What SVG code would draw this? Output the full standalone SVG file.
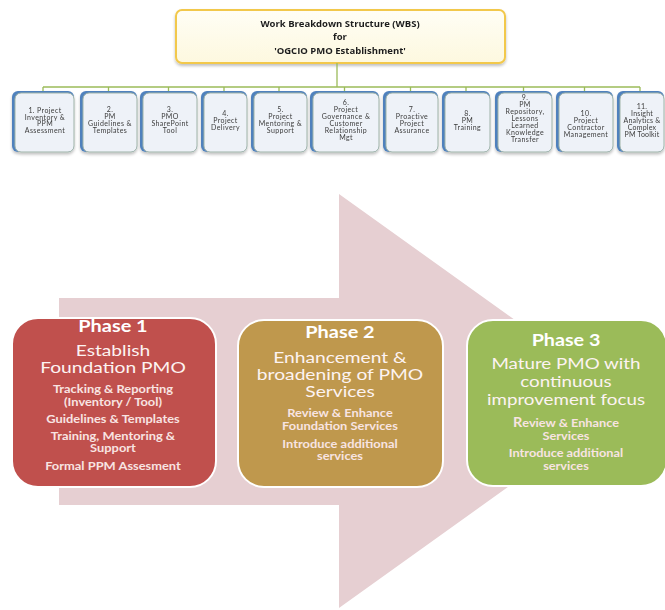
<svg xmlns="http://www.w3.org/2000/svg" width="665" height="610" viewBox="0 0 665 610">
  <style>
    .title { font-family: "Open Sans", "Liberation Sans", sans-serif; font-weight: bold; font-size: 9.5px; fill: #1e1e1e; text-anchor: middle; }
    .wbs-back { fill: #4f81bd; }
    .wbs-box { fill: #eef2f8; stroke: #9fb3a8; stroke-width: 1; }
    .wbs-text { font-family: Lato, "Liberation Sans", sans-serif; font-size: 7px; letter-spacing: 0.4px; fill: #3c3c3c; text-anchor: middle; }
    .conn { stroke: #9bbb59; stroke-width: 1.3; fill: none; }
    .phase { stroke: #ffffff; stroke-width: 2; }
    .ph-head { font-family: Lato, "Liberation Sans", sans-serif; font-weight: bold; font-size: 17px; fill: #ffffff; text-anchor: middle; }
    .ph-main { font-family: Lato, "Liberation Sans", sans-serif; font-size: 15.5px; fill: #fdf3f2; text-anchor: middle; }
    .ph-sub { font-family: Lato, "Liberation Sans", sans-serif; font-weight: bold; font-size: 11px; fill: #f8e4e2; text-anchor: middle; }
  </style>
  <defs>
    <filter id="soft" x="-10%" y="-10%" width="130%" height="140%">
      <feGaussianBlur in="SourceAlpha" stdDeviation="1.5"/>
      <feOffset dx="0" dy="2" result="b"/>
      <feComponentTransfer><feFuncA type="linear" slope="0.25"/></feComponentTransfer>
      <feMerge><feMergeNode/><feMergeNode in="SourceGraphic"/></feMerge>
    </filter>
    <linearGradient id="topFill" x1="0" y1="0" x2="0" y2="1">
      <stop offset="0" stop-color="#fffef5"/>
      <stop offset="1" stop-color="#fdf8df"/>
    </linearGradient>
  </defs>

  <rect width="665" height="610" fill="#ffffff"/>

  <!-- WBS root -->
  <g id="wbs-root" filter="url(#soft)">
    <rect x="176" y="10" width="329" height="53" rx="6" fill="url(#topFill)" stroke="#f2c84b" stroke-width="2"/>
    <text class="title" x="340" y="27">Work Breakdown Structure (WBS)</text>
    <text class="title" x="340" y="40">for</text>
    <text class="title" x="340" y="54">'OGCIO PMO Establishment'</text>
  </g>

  <!-- tree connectors -->
  <g id="connectors" class="conn">
    <path d="M337 63 V87"/>
    <path d="M43 87 H640"/>
    <path d="M43 87 V91 M108.5 87 V91 M168.5 87 V91 M224 87 V91 M279 87 V91 M344.5 87 V91 M410.5 87 V91 M466 87 V91 M523.5 87 V91 M584.5 87 V91 M640 87 V91"/>
  </g>

  <!-- WBS work packages -->
  <g id="wp1" filter="url(#soft)">
    <rect class="wbs-back" x="12" y="91" width="62" height="61" rx="6"/>
    <rect class="wbs-box" x="15" y="93" width="59" height="59" rx="6"/>
    <text class="wbs-text" x="45" y="113">1. Project</text>
    <text class="wbs-text" x="45" y="119.5">Inventory &amp;</text>
    <text class="wbs-text" x="45" y="126">PPM</text>
    <text class="wbs-text" x="45" y="133">Assessment</text>
  </g>
  <g id="wp2" filter="url(#soft)">
    <rect class="wbs-back" x="80" y="91" width="57" height="61" rx="6"/>
    <rect class="wbs-box" x="83" y="93" width="54" height="59" rx="6"/>
    <text class="wbs-text" x="110" y="112">2.</text>
    <text class="wbs-text" x="110" y="119">PM</text>
    <text class="wbs-text" x="110" y="126">Guidelines &amp;</text>
    <text class="wbs-text" x="110" y="133">Templates</text>
  </g>
  <g id="wp3" filter="url(#soft)">
    <rect class="wbs-back" x="140" y="91" width="57" height="61" rx="6"/>
    <rect class="wbs-box" x="143" y="93" width="54" height="59" rx="6"/>
    <text class="wbs-text" x="170" y="112">3.</text>
    <text class="wbs-text" x="170" y="119">PMO</text>
    <text class="wbs-text" x="170" y="126">SharePoint</text>
    <text class="wbs-text" x="170" y="133">Tool</text>
  </g>
  <g id="wp4" filter="url(#soft)">
    <rect class="wbs-back" x="201" y="91" width="46" height="61" rx="6"/>
    <rect class="wbs-box" x="204" y="93" width="43" height="59" rx="6"/>
    <text class="wbs-text" x="225.5" y="116">4.</text>
    <text class="wbs-text" x="225.5" y="123">Project</text>
    <text class="wbs-text" x="225.5" y="130">Delivery</text>
  </g>
  <g id="wp5" filter="url(#soft)">
    <rect class="wbs-back" x="251" y="91" width="56" height="61" rx="6"/>
    <rect class="wbs-box" x="254" y="93" width="53" height="59" rx="6"/>
    <text class="wbs-text" x="280.5" y="112">5.</text>
    <text class="wbs-text" x="280.5" y="119">Project</text>
    <text class="wbs-text" x="280.5" y="126">Mentoring &amp;</text>
    <text class="wbs-text" x="280.5" y="133">Support</text>
  </g>
  <g id="wp6" filter="url(#soft)">
    <rect class="wbs-back" x="310" y="91" width="69" height="61" rx="6"/>
    <rect class="wbs-box" x="313" y="93" width="66" height="59" rx="6"/>
    <text class="wbs-text" x="346" y="105">6.</text>
    <text class="wbs-text" x="346" y="112">Project</text>
    <text class="wbs-text" x="346" y="119">Governance &amp;</text>
    <text class="wbs-text" x="346" y="126">Customer</text>
    <text class="wbs-text" x="346" y="133">Relationship</text>
    <text class="wbs-text" x="346" y="140">Mgt</text>
  </g>
  <g id="wp7" filter="url(#soft)">
    <rect class="wbs-back" x="383" y="91" width="55" height="61" rx="6"/>
    <rect class="wbs-box" x="386" y="93" width="52" height="59" rx="6"/>
    <text class="wbs-text" x="412" y="112">7.</text>
    <text class="wbs-text" x="412" y="119">Proactive</text>
    <text class="wbs-text" x="412" y="126">Project</text>
    <text class="wbs-text" x="412" y="133">Assurance</text>
  </g>
  <g id="wp8" filter="url(#soft)">
    <rect class="wbs-back" x="442" y="91" width="48" height="61" rx="6"/>
    <rect class="wbs-box" x="445" y="93" width="45" height="59" rx="6"/>
    <text class="wbs-text" x="467.5" y="116">8.</text>
    <text class="wbs-text" x="467.5" y="123">PM</text>
    <text class="wbs-text" x="467.5" y="130">Training</text>
  </g>
  <g id="wp9" filter="url(#soft)">
    <rect class="wbs-back" x="495" y="91" width="57" height="61" rx="6"/>
    <rect class="wbs-box" x="498" y="93" width="54" height="59" rx="6"/>
    <text class="wbs-text" x="525" y="100">9.</text>
    <text class="wbs-text" x="525" y="107">PM</text>
    <text class="wbs-text" x="525" y="114">Repository,</text>
    <text class="wbs-text" x="525" y="121">Lessons</text>
    <text class="wbs-text" x="525" y="128">Learned</text>
    <text class="wbs-text" x="525" y="135">Knowledge</text>
    <text class="wbs-text" x="525" y="142">Transfer</text>
  </g>
  <g id="wp10" filter="url(#soft)">
    <rect class="wbs-back" x="556" y="91" width="57" height="61" rx="6"/>
    <rect class="wbs-box" x="559" y="93" width="54" height="59" rx="6"/>
    <text class="wbs-text" x="586" y="116">10.</text>
    <text class="wbs-text" x="586" y="123">Project</text>
    <text class="wbs-text" x="586" y="130">Contractor</text>
    <text class="wbs-text" x="586" y="137">Management</text>
  </g>
  <g id="wp11" filter="url(#soft)">
    <rect class="wbs-back" x="617" y="91" width="47" height="61" rx="6"/>
    <rect class="wbs-box" x="620" y="93" width="44" height="59" rx="6"/>
    <text class="wbs-text" x="642" y="109" style="letter-spacing:0.2px">11.</text>
    <text class="wbs-text" x="642" y="116" style="letter-spacing:0.2px">Insight</text>
    <text class="wbs-text" x="642" y="123" style="letter-spacing:0.2px">Analytics &amp;</text>
    <text class="wbs-text" x="642" y="130" style="letter-spacing:0.2px">Complex</text>
    <text class="wbs-text" x="642" y="137" style="letter-spacing:0.2px">PM Toolkit</text>
  </g>

  <!-- big progression arrow -->
  <path id="progress-arrow" d="M59 298 H339 V194 L628 401 L339 608 V505 H59 Z" fill="#e6cfd2"/>

  <!-- phases (captions widened about the box centre) -->
  <g id="phase1">
    <rect class="phase" x="12" y="318" width="204" height="169" rx="26" fill="#c0504d"/>
    <g transform="translate(113 0) scale(1.17 1) translate(-113 0)">
      <text class="ph-head" x="113" y="332">Phase 1</text>
      <text class="ph-sub" x="113" y="393">Tracking &amp; Reporting</text>
      <text class="ph-sub" x="113" y="406">(Inventory / Tool)</text>
      <text class="ph-sub" x="113" y="423">Guidelines  &amp; Templates</text>
      <text class="ph-sub" x="113" y="440">Training, Mentoring &amp;</text>
      <text class="ph-sub" x="113" y="452.5">Support</text>
      <text class="ph-sub" x="113" y="470">Formal PPM Assesment</text>
    </g>
    <g transform="translate(113 0) scale(1.24 1) translate(-113 0)">
      <text class="ph-main" x="113" y="356">Establish</text>
      <text class="ph-main" x="113" y="373">Foundation PMO</text>
    </g>
  </g>
  <g id="phase2">
    <rect class="phase" x="238" y="320" width="205" height="167" rx="26" fill="#bf984d"/>
    <g transform="translate(340 0) scale(1.17 1) translate(-340 0)">
      <text class="ph-head" x="340" y="338">Phase 2</text>
      <text class="ph-sub" x="340" y="417">Review &amp; Enhance</text>
      <text class="ph-sub" x="340" y="430">Foundation  Services</text>
      <text class="ph-sub" x="340" y="448">Introduce additional</text>
      <text class="ph-sub" x="340" y="460.5">services</text>
    </g>
    <g transform="translate(340 0) scale(1.24 1) translate(-340 0)">
      <text class="ph-main" x="340" y="363">Enhancement &amp;</text>
      <text class="ph-main" x="340" y="380">broadening of PMO</text>
      <text class="ph-main" x="340" y="397">Services</text>
    </g>
  </g>
  <g id="phase3">
    <rect class="phase" x="467" y="320" width="200" height="166" rx="26" fill="#9bbb59"/>
    <g transform="translate(566 0) scale(1.16 1) translate(-566 0)">
      <text class="ph-head" x="566" y="346">Phase 3</text>
      <text class="ph-sub" x="566" y="427"><tspan font-size="12.5px">R</tspan>eview &amp; Enhance</text>
      <text class="ph-sub" x="566" y="440">Services</text>
      <text class="ph-sub" x="566" y="457">Introduce  additional</text>
      <text class="ph-sub" x="566" y="470">services</text>
    </g>
    <g transform="translate(566 0) scale(1.21 1) translate(-566 0)">
      <text class="ph-main" x="566" y="369.5">Mature PMO with</text>
      <text class="ph-main" x="566" y="387.5">continuous</text>
      <text class="ph-main" x="566" y="405">improvement focus</text>
    </g>
  </g>
</svg>
